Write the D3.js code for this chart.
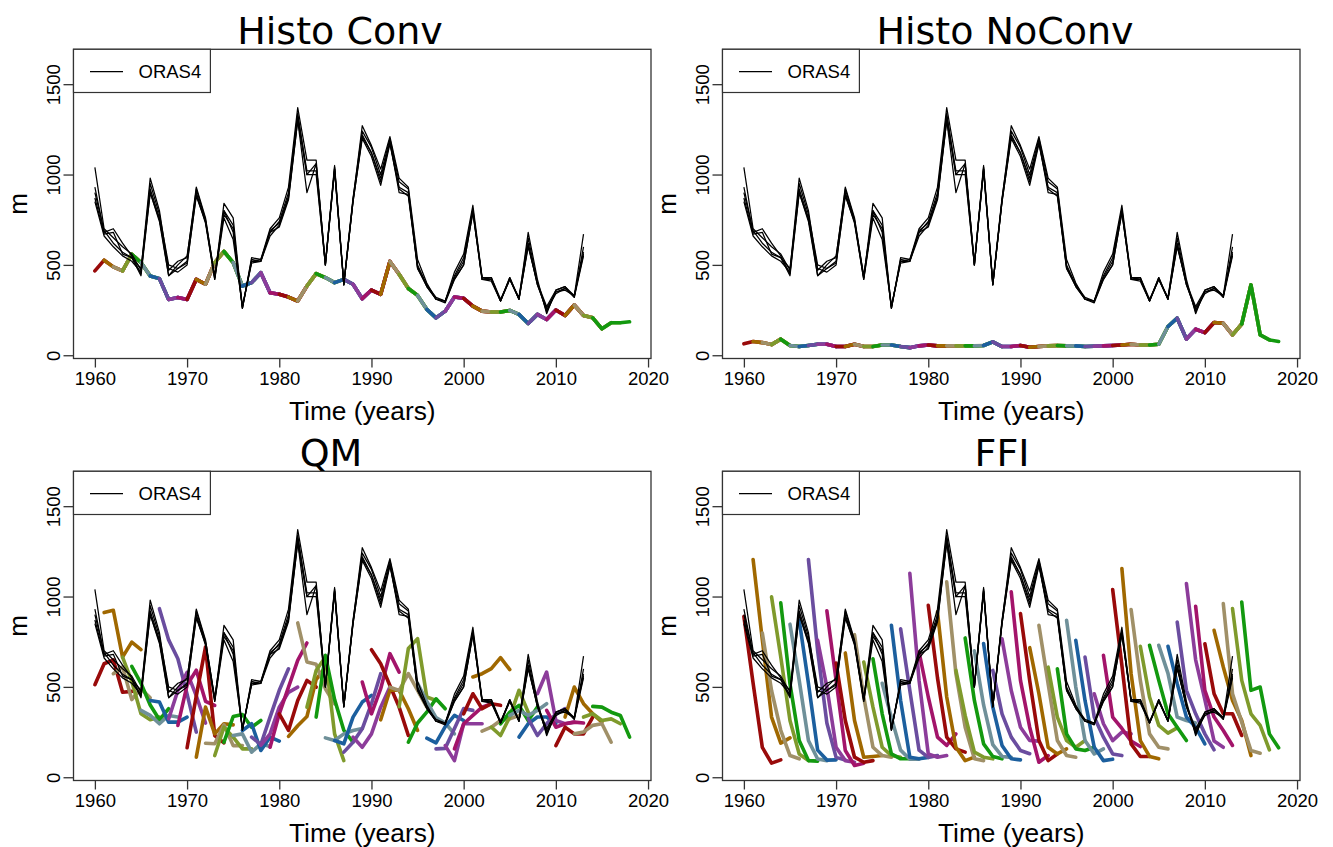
<!DOCTYPE html>
<html>
<head>
<meta charset="utf-8">
<script src="https://cdn.jsdelivr.net/npm/d3@7"></script>
<style>
  body { margin: 0; background: #fff; }
  text { font-family: "Liberation Sans", Arial, sans-serif; fill: #000; }
  .title { font-family: "DejaVu Sans", sans-serif; }
</style>
</head>
<body>
<div id="chart"></div>
<script>
// ---- data ----
const panelTitles = ["Histo Conv", "Histo NoConv", "QM", "FFI"];
const xTicks = [1960, 1970, 1980, 1990, 2000, 2010, 2020];
const yTicks = [0, 500, 1000, 1500];
const palette = ["#990a0a", "#a06800", "#a09068", "#7f9a2c", "#13990f",
                 "#6f9099", "#1c5f9e", "#6a4d9f", "#8c3c9a", "#a3146a"];

const oras4Start = 1960;
// five ORAS4 members, 1960-2013
const oras4Members = [
  [1040, 700, 650, 600, 560, 470, 980, 800, 470, 520, 540, 930, 760, 430, 840, 760, 260, 540, 530, 700, 760, 930, 1370, 1080, 1080, 500, 1050, 390, 860, 1270, 1160, 1030, 1210, 980, 930, 530, 400, 310, 300, 460, 560, 830, 430, 430, 300, 430, 310, 680, 420, 230, 360, 380, 330, 670],
  [930, 680, 700, 620, 550, 450, 950, 780, 500, 480, 520, 920, 750, 440, 800, 720, 270, 520, 530, 680, 740, 900, 1340, 1000, 1060, 510, 1040, 400, 870, 1240, 1150, 1000, 1200, 960, 920, 500, 390, 320, 300, 440, 540, 810, 420, 430, 310, 420, 320, 650, 400, 240, 350, 370, 320, 600],
  [900, 690, 620, 570, 540, 480, 920, 760, 440, 500, 550, 900, 740, 430, 780, 700, 260, 530, 520, 690, 730, 880, 1320, 1020, 1020, 500, 1030, 390, 860, 1220, 1120, 980, 1180, 930, 900, 480, 380, 310, 300, 430, 520, 800, 430, 420, 300, 420, 310, 620, 390, 250, 340, 370, 330, 570],
  [870, 670, 680, 560, 540, 440, 900, 750, 480, 460, 500, 890, 730, 420, 760, 640, 270, 510, 520, 660, 720, 870, 1300, 900, 1060, 500, 1020, 390, 850, 1200, 1100, 940, 1170, 920, 880, 480, 390, 310, 290, 420, 500, 790, 420, 420, 300, 420, 310, 610, 390, 260, 350, 360, 330, 560],
  [850, 660, 600, 550, 520, 460, 900, 740, 440, 480, 510, 880, 740, 420, 800, 680, 260, 520, 520, 680, 710, 860, 1300, 1000, 1000, 500, 1030, 390, 850, 1210, 1120, 960, 1180, 900, 890, 490, 380, 310, 300, 420, 500, 790, 420, 410, 300, 430, 310, 600, 400, 270, 360, 380, 320, 550]
];

// forecasts start every year 1960-2014, five lead years each
const forecastStart = 1960;
const leadYears = 5;

// Histo Conv / NoConv: the members overlap into one curve, 1960-2018
const histoConv = [467, 526, 489, 467, 559, 513, 439, 424, 309, 319, 309, 420, 393, 513, 574, 513, 383, 402, 457, 346,
  337, 322, 300, 383, 452, 430, 402, 420, 393, 313, 361, 337, 519, 448, 369, 331, 254, 207, 244, 322,
  315, 272, 244, 239, 239, 248, 226, 176, 226, 198, 250, 220, 278, 220, 207, 146, 180, 180, 185];
const histoNoConv = [63, 76, 70, 59, 89, 54, 48, 54, 61, 61, 48, 48, 61, 48, 48, 57, 57, 48, 42, 52,
  57, 52, 52, 52, 52, 52, 54, 74, 48, 48, 54, 44, 48, 52, 54, 52, 52, 48, 50, 52,
  54, 57, 61, 57, 57, 61, 159, 205, 90, 144, 125, 181, 177, 113, 173, 389, 113, 85, 76];

const qmForecasts = [
  [512, 628, 650, 470, 475], [911, 924, 665, 748, 706], [573, 610, 430, 490, 440], [665, 530, 351, 318, 333],
  [614, 520, 400, 318, 379], [370, 342, 296, 342, 333], [425, 416, 305, 305, 333], [933, 760, 656, 460, 250],
  [323, 480, 580, 450, 300], [287, 510, 592, 420, 397], [163, 450, 721, 231, 190], [111, 388, 240, 296, 290],
  [188, 185, 290, 175, 175], [120, 277, 222, 157, 157], [194, 336, 347, 277, 314], [231, 240, 139, 185, 170],
  [259, 296, 148, 222, 200], [222, 181, 333, 481, 600], [176, 240, 388, 470, 499], [166, 351, 499, 647, 743],
  [351, 259, 425, 536, 499], [226, 285, 336, 540, 610], [854, 638, 625, 490, 406], [388, 591, 665, 240, 92],
  [333, 675, 430, 260, 194], [218, 203, 240, 259, 270], [203, 185, 333, 416, 453], [139, 194, 268, 407, 573],
  [222, 166, 240, 388, 499], [527, 351, 490, 684, 582], [706, 628, 508, 388, 231], [318, 481, 481, 379, 259],
  [499, 480, 573, 481, 388], [390, 712, 767, 444, 425], [194, 300, 360, 434, 379], [520, 420, 330, 300, 240],
  [216, 190, 280, 342, 314], [157, 160, 270, 380, 370], [175, 92, 296, 296, 296], [157, 296, 342, 388, 407],
  [351, 462, 379, 407, 398], [555, 573, 601, 662, 596], [255, 277, 314, 323, 342], [277, 231, 333, 481, 360],
  [296, 360, 398, 314, 388], [342, 370, 342, 370, 407], [222, 296, 333, 333, 296], [324, 231, 296, 350, 380],
  [462, 582, 314, 296, 305], [370, 277, 296, 305, 300], [175, 277, 240, 240, 333], [333, 499, 407, 351, 305],
  [240, 250, 287, 296, 194], [333, 351, 314, 323, 296], [392, 388, 360, 342, 222]
];

const ffiForecasts = [
  [890, 520, 165, 78, 96], [1205, 760, 333, 189, 218], [798, 480, 260, 120, 102], [998, 665, 314, 129, 92],
  [965, 517, 203, 92, 89], [847, 536, 203, 101, 92], [869, 520, 150, 95, 96], [1205, 700, 300, 110, 95],
  [758, 499, 166, 92, 83], [921, 536, 148, 65, 78], [632, 314, 111, 83, 92], [688, 314, 111, 115, 120],
  [789, 444, 166, 120, 111], [638, 388, 166, 120, 111], [656, 351, 129, 102, 102], [520, 330, 150, 100, 100],
  [841, 425, 111, 102, 110], [822, 480, 150, 110, 120], [1128, 536, 129, 111, 120], [693, 444, 222, 176, 240],
  [951, 550, 222, 157, 139], [915, 444, 166, 92, 111], [1081, 573, 277, 102, 92], [591, 342, 139, 111, 102],
  [771, 425, 185, 115, 102], [700, 400, 180, 115, 110], [740, 388, 176, 102, 96], [591, 351, 222, 148, 130],
  [766, 480, 277, 203, 200], [1026, 536, 277, 83, 120], [906, 536, 203, 92, 129], [717, 462, 166, 129, 157],
  [841, 518, 203, 120, 111], [609, 333, 203, 166, 203], [600, 240, 157, 148, 166], [869, 499, 203, 129, 157],
  [758, 425, 166, 92, 100], [665, 333, 222, 129, 120], [462, 296, 203, 250, 240], [675, 333, 270, 200, 170],
  [1039, 620, 185, 115, 115], [1155, 573, 203, 115, 102], [928, 536, 240, 166, 157], [725, 444, 287, 244, 273],
  [730, 536, 351, 277, 203], [730, 575, 333, 314, 300], [725, 518, 333, 277, 185], [859, 481, 351, 240, 152],
  [1072, 650, 430, 200, 166], [946, 481, 333, 259, 176], [739, 462, 351, 351, 231], [813, 610, 425, 314, 120],
  [961, 462, 305, 148, 133], [933, 536, 351, 287, 152], [970, 481, 499, 240, 163]
];

// Histo runs are cut into the same 5-year forecasts
const sliceForecasts = series => ffiForecasts.map((_, i) => series.slice(i, i + leadYears));

const panels = [
  { title: panelTitles[0], forecasts: sliceForecasts(histoConv), col: 0, row: 0, titleX: 340 },
  { title: panelTitles[1], forecasts: sliceForecasts(histoNoConv), col: 1, row: 0, titleX: 356 },
  { title: panelTitles[2], forecasts: qmForecasts, col: 0, row: 1, titleX: 331 },
  { title: panelTitles[3], forecasts: ffiForecasts, col: 1, row: 1, titleX: 353 }
];

// ---- layout ----
const width = 1333, height = 847;
const colStep = 649, rowStep = 422;
const box = { left: 73.5, right: 651, top: 49.3, bottom: 358.5 };

const svg = d3.select("#chart").append("svg")
  .attr("width", width)
  .attr("height", height);

const x = d3.scaleLinear().domain([1957.68, 2020.32]).range([box.left, box.right]);
const y = d3.scaleLinear().domain([-18, 1693]).range([box.bottom, box.top]);

panels.forEach((p, k) => {
  const g = svg.append("g")
    .attr("transform", `translate(${p.col * colStep}, ${p.row * rowStep})`);

  g.append("clipPath").attr("id", "clip" + k)
    .append("rect")
    .attr("x", box.left).attr("y", box.top)
    .attr("width", box.right - box.left).attr("height", box.bottom - box.top);

  const plot = g.append("g").attr("clip-path", `url(#clip${k})`);

  // coloured forecasts, one per start year
  p.forecasts.forEach((vals, i) => {
    const start = forecastStart + i;
    const line = d3.line()
      .x((d, j) => x(start + j))
      .y(d => y(d));
    plot.append("path")
      .attr("d", line(vals))
      .attr("fill", "none")
      .attr("stroke", palette[i % palette.length])
      .attr("stroke-width", 3.6)
      .attr("stroke-linejoin", "round")
      .attr("stroke-linecap", "round");
  });

  // ORAS4 members on top
  const oLine = d3.line()
    .x((d, j) => x(oras4Start + j))
    .y(d => y(d));
  oras4Members.forEach(m => {
    plot.append("path")
      .attr("d", oLine(m))
      .attr("fill", "none")
      .attr("stroke", "#000")
      .attr("stroke-width", 1.25)
      .attr("stroke-linejoin", "round");
  });

  // box
  g.append("rect")
    .attr("x", box.left).attr("y", box.top)
    .attr("width", box.right - box.left).attr("height", box.bottom - box.top)
    .attr("fill", "none").attr("stroke", "#333").attr("stroke-width", 1.3);

  // x axis
  const xAxis = g.append("g")
    .attr("transform", `translate(0, ${box.bottom})`)
    .call(d3.axisBottom(x).tickValues(xTicks).tickFormat(d3.format("d")).tickSize(9).tickPadding(4));
  xAxis.select(".domain").remove();
  xAxis.selectAll("line").attr("stroke", "#333").attr("stroke-width", 1.3);
  xAxis.selectAll("text").style("font-size", "18.5px").attr("font-family", null);

  // y axis, labels rotated like base R
  const yAxis = g.append("g")
    .attr("transform", `translate(${box.left}, 0)`)
    .call(d3.axisLeft(y).tickValues(yTicks).tickSize(10).tickFormat(d3.format("d")));
  yAxis.select(".domain").remove();
  yAxis.selectAll("line").attr("stroke", "#333").attr("stroke-width", 1.3);
  yAxis.selectAll("text")
    .style("font-size", "18.5px")
    .attr("font-family", null)
    .attr("x", null).attr("dy", null)
    .attr("text-anchor", "middle")
    .attr("transform", "translate(-14, 0) rotate(-90)");

  // axis titles
  g.append("text")
    .attr("x", (box.left + box.right) / 2)
    .attr("y", box.bottom + 61)
    .attr("text-anchor", "middle")
    .style("font-size", "26.3px")
    .text("Time (years)");

  g.append("text")
    .attr("transform", `translate(27, ${(box.top + box.bottom) / 2}) rotate(-90)`)
    .attr("text-anchor", "middle")
    .style("font-size", "26px")
    .text("m");

  // panel title
  g.append("text")
    .attr("class", "title")
    .attr("x", p.titleX)
    .attr("y", 43.5)
    .attr("text-anchor", "middle")
    .style("font-size", "38px")
    .text(p.title);

  // legend
  const lg = g.append("g");
  lg.append("rect")
    .attr("x", box.left).attr("y", box.top)
    .attr("width", 210.4 - box.left).attr("height", 92.5 - box.top)
    .attr("fill", "#fff").attr("stroke", "#333").attr("stroke-width", 1.2);
  lg.append("line")
    .attr("x1", 90).attr("x2", 123)
    .attr("y1", 71.5).attr("y2", 71.5)
    .attr("stroke", "#000").attr("stroke-width", 1.25);
  lg.append("text")
    .attr("x", 138.5).attr("y", 78)
    .style("font-size", "18.5px")
    .text("ORAS4");
});
</script>
</body>
</html>
